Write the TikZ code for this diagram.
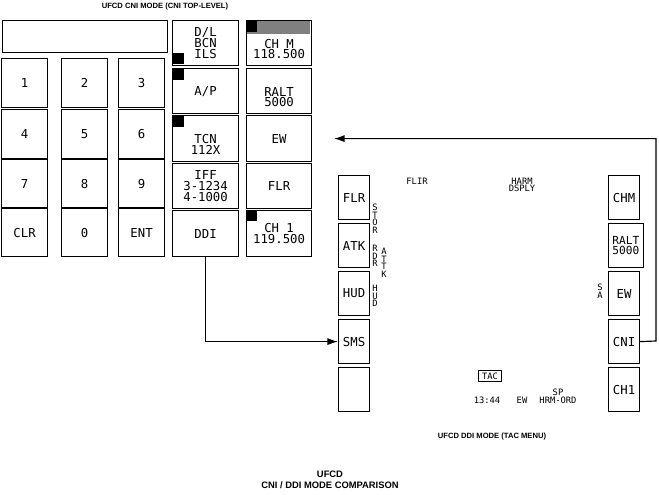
\documentclass[tikz,border=0pt]{standalone}
\usepackage{fontspec}
\setmainfont{Liberation Sans}
\newfontfamily\dsp{DejaVu Sans Mono}
\usetikzlibrary{arrows.meta}
\tikzset{key/.style={draw,line width=1pt,font=\dsp\fontsize{10.5}{9}\selectfont,align=center},
 mark/.style={fill=black},
 lbl/.style={font=\dsp\fontsize{7.5}{6.5}\selectfont,align=center,inner sep=0pt},
 ttl/.style={font=\bfseries\fontsize{6.5}{7}\selectfont,align=center,inner sep=0pt},
 conn/.style={line width=1pt,-{Latex[length=9pt,width=6pt]}}}
\newcommand{\keybox}[6]{\node[key,minimum width=#3*0.03cm,minimum height=#4*0.03cm,anchor=north west] (#5) at (#1,#2) {#6};}
\begin{document}
\begin{tikzpicture}[x=0.03cm,y=-0.03cm]
\useasboundingbox (0,0) rectangle (659,495);
\node[ttl] at (165,7) {UFCD CNI MODE (CNI TOP-LEVEL)};
\keybox{2}{20}{165}{32}{disp}{}
\keybox{1}{58}{46}{49}{k1}{1}
\keybox{61}{58}{46}{49}{k2}{2}
\keybox{118}{58}{46}{49}{k3}{3}
\keybox{1}{109}{46}{49}{k4}{4}
\keybox{61}{109}{46}{49}{k5}{5}
\keybox{118}{109}{46}{49}{k6}{6}
\keybox{1}{159}{46}{48}{k7}{7}
\keybox{61}{159}{46}{48}{k8}{8}
\keybox{118}{159}{46}{48}{k9}{9}
\keybox{1}{208}{46}{48}{kclr}{CLR}
\keybox{61}{208}{46}{48}{k0}{0}
\keybox{118}{208}{46}{48}{kent}{ENT}
% option column
\keybox{172}{20}{66}{45}{dl}{D/L\\BCN\\ILS}
\keybox{172}{68}{66}{45}{ap}{A/P}
\keybox{172}{115}{66}{46}{tcn}{\strut\\TCN\\112X}
\keybox{172}{163}{66}{45}{iff}{IFF\\3-1234\\4-1000}
\keybox{172}{210}{66}{46}{ddi}{DDI}
\fill (173,53) rectangle (184,64);
\fill (173,69) rectangle (184,80);
\fill (173,116) rectangle (184,127);
% right column
\keybox{246}{20}{65}{45}{chm}{\strut\\CH M\\118.500}
\fill[gray] (247,21) rectangle (310,34);
\fill (247,21) rectangle (257,32);
\keybox{246}{68}{65}{45}{ralt}{\strut\\RALT\\5000}
\keybox{246}{115}{65}{46}{ew}{EW}
\keybox{246}{163}{65}{45}{flr}{FLR}
\keybox{246}{210}{65}{46}{ch1}{CH 1\\119.500}
\fill (247,211) rectangle (257,221);
% DDI display
\keybox{338}{175}{31}{44}{lflr}{FLR}
\keybox{338}{223}{31}{44}{latk}{ATK}
\keybox{338}{271}{31}{44}{lhud}{HUD}
\keybox{338}{319}{31}{44}{lsms}{SMS}
\keybox{338}{367}{31}{44}{lblank}{}
\keybox{608}{175}{31}{44}{rchm}{CHM}
\keybox{608}{223}{31}{44}{rralt}{\fontsize{9.5}{8}\selectfont RALT\\\fontsize{9.5}{8}\selectfont 5000}
\keybox{608}{271}{31}{44}{rew}{EW}
\keybox{608}{319}{31}{44}{rcni}{CNI}
\keybox{608}{367}{31}{44}{rch1}{CH1}
\node[lbl] (flir) at (417,181) {FLIR};
\node[lbl] (harm) at (522,185) {HARM\\DSPLY};
\node[lbl,anchor=north] (stor) at (375,204) {S\\T\\O\\R};
\node[lbl,anchor=north] (rdr) at (375,245) {R\\D\\R};
\node[lbl,anchor=north] (attk) at (384,248) {A\\T\\T\\K};
\node[lbl,anchor=north] (hud) at (375,285) {H\\U\\D};
\node[lbl,anchor=north] (sa) at (600,284) {S\\A};
\node[lbl,draw,line width=0.8pt,inner xsep=3pt,inner ysep=2pt] (tac) at (490,376) {TAC};
\node[lbl] (time) at (487,400) {13:44};
\node[lbl] (dew) at (522,400) {EW};
\node[lbl] (hrm) at (558,396) {SP\\HRM-ORD};
\node[ttl] at (492,437) {UFCD DDI MODE (TAC MENU)};
\node[ttl,font=\bfseries\fontsize{8}{9}\selectfont] at (330,480) {UFCD\\CNI / DDI MODE COMPARISON};
% connectors
\draw[conn] (ddi.south) |- (lsms.west);
\draw[conn] (rcni.east) -- (656,341) |- (ew.east -| 334,0);
\end{tikzpicture}
\end{document}
